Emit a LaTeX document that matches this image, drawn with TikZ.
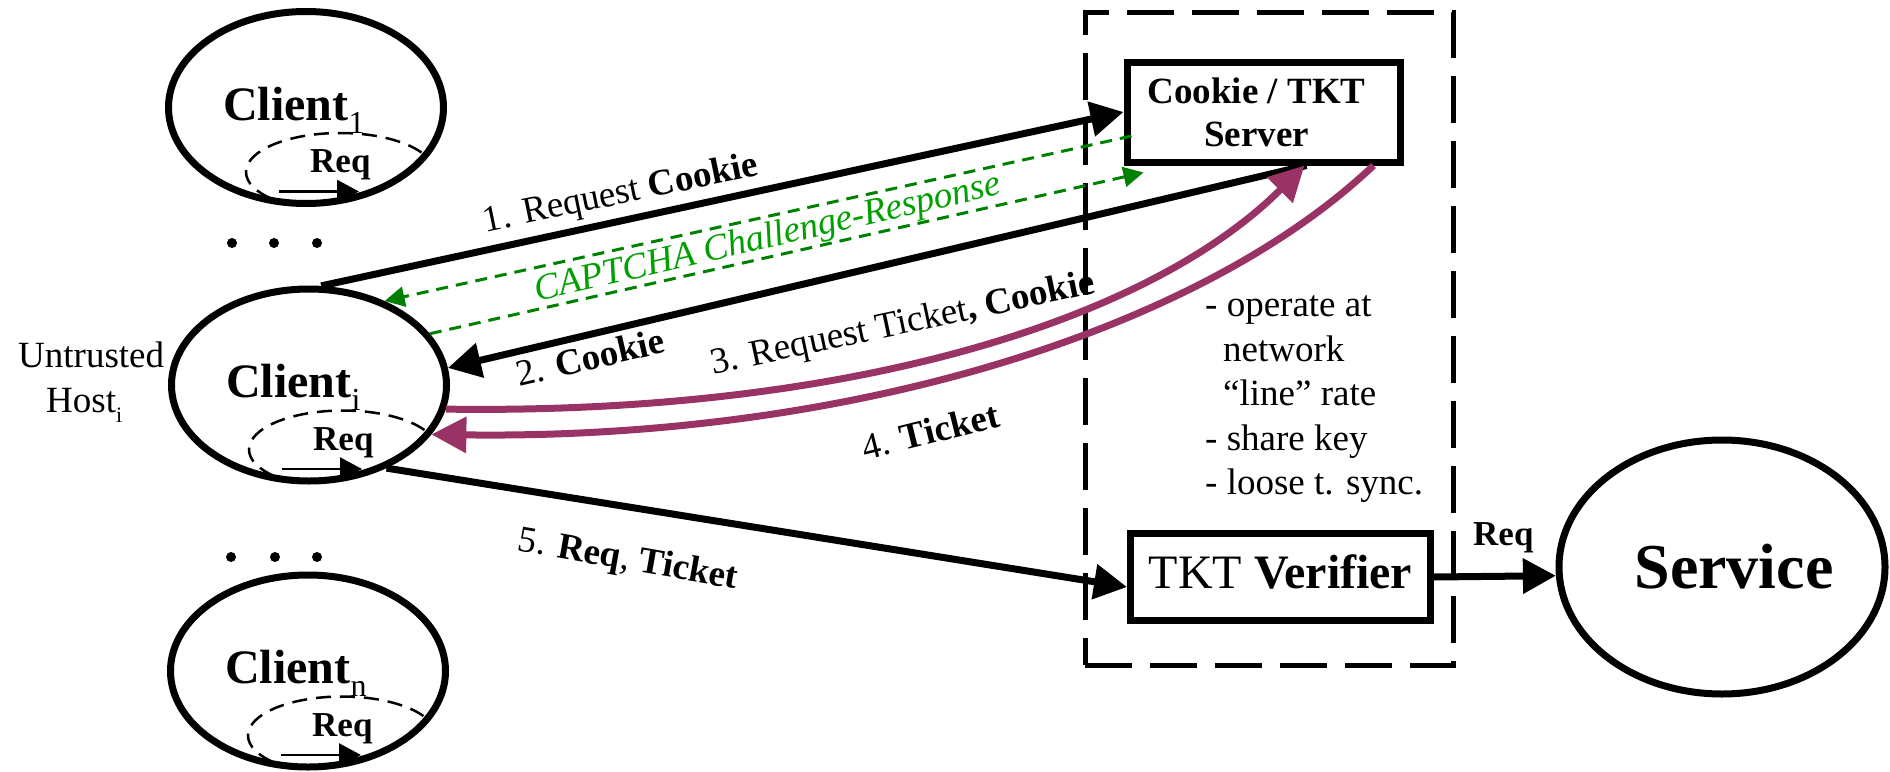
\documentclass[tikz,border=0pt]{standalone}
\usepackage{fontspec}
\setmainfont{Liberation Serif}
\usetikzlibrary{arrows.meta,shapes.geometric}

\definecolor{plum}{RGB}{153,51,102}
\definecolor{dkgreen}{RGB}{0,128,0}
\definecolor{txgreen}{RGB}{0,160,0}

% one client host: outer ellipse, dashed request loop, labels
\newcommand\clientnode[4]{%
  \node[client] (#1) at (#2,#3) {};
  \begin{scope}
    \clip (#2,#3) ellipse [x radius=137.5pt, y radius=96pt];
    \draw[reqloop] ({#2+34},{#3+64.5}) ellipse [x radius=94pt, y radius=39pt];
  \end{scope}
  \node[clientlbl] (#1lbl) at ({#2-83},{#3+12.5}) {Client\raisebox{-13pt}{\fontsize{32}{32}\mdseries #4}};
  \node[reqlbl] (#1req) at ({#2+4},{#3+65}) {Req};
  \coordinate (#1a) at ({#2-27},{#3+84});
  \coordinate (#1b) at ({#2+53},{#3+84});
  \draw[minireq] (#1a) -- (#1b);
}

\begin{document}
\begin{tikzpicture}[x=1pt,y=-1pt,
  client/.style={ellipse,draw,line width=7pt,minimum width=275pt,minimum height=192pt,inner sep=0pt},
  reqloop/.style={line width=2.5pt,dash pattern=on 15pt off 9pt},
  clientlbl/.style={anchor=base west,inner sep=0pt,font=\bfseries\fontsize{48}{56}\selectfont},
  reqlbl/.style={anchor=base west,inner sep=0pt,font=\bfseries\fontsize{35}{40}\selectfont},
  minireq/.style={line width=2.5pt,-{Triangle[length=22pt,width=23pt]}},
  box/.style={rectangle,draw,line width=7pt,inner sep=0pt},
  lbl/.style={inner sep=0pt,font=\fontsize{37}{44}\selectfont},
  note/.style={lbl,anchor=base west},
  flow/.style={line width=7pt,-{Triangle[length=33pt,width=34pt]}},
  pflow/.style={draw=plum,line width=7pt,-{Triangle[length=35pt,width=35pt]}},
  gflow/.style={draw=dkgreen,line width=3pt,dash pattern=on 12pt off 8pt,-{Triangle[length=20pt,width=20pt]}},
  dot/.style={circle,fill,inner sep=0pt,minimum size=10pt}]

\useasboundingbox (0,0) rectangle (1890,771);

% trusted domain (dashed frame)
\node[draw,line width=5pt,dash pattern=on 47pt off 18pt,minimum width=368pt,minimum height=653pt,inner sep=0pt] (grp) at (1269,338.5) {};

% clients
\clientnode{c1}{306}{107.5}{1}
\clientnode{ci}{309}{385}{i}
\clientnode{cn}{308}{671}{n}

\node[dot] (d1) at (232,243) {};
\node[dot] (d2) at (274,243) {};
\node[dot] (d3) at (317,243) {};
\node[dot] (d4) at (231,557) {};
\node[dot] (d5) at (275,557) {};
\node[dot] (d6) at (317,557) {};

\node[note] (u1) at (18,367) {Untrusted};
\node[note] (u2) at (46,412) {Host\raisebox{-10pt}{\fontsize{22}{22}\selectfont i}};

% servers
\node[box,minimum width=273pt,minimum height=100pt,align=center,font=\bfseries\fontsize{37}{43}\selectfont] (srv) at (1263.5,112) {Cookie / TKT\hspace*{14pt}\\Server\hspace*{14pt}};
\node[box,minimum width=300pt,minimum height=87pt,text depth=10pt,font=\fontsize{48}{56}\selectfont] (ver) at (1280.5,577) {TKT \textbf{Verifier}};

\node[ellipse,draw,line width=7pt,minimum width=326pt,minimum height=254pt,inner sep=0pt] (svc) at (1722,567) {};
\node[anchor=base,inner sep=0pt,font=\bfseries\fontsize{64}{70}\selectfont] (svclbl) at (1734,588) {Service};

\node[note] (n1) at (1205,316) {- operate at};
\node[note] (n2) at (1223,361) {network};
\node[note] (n3) at (1223,405) {“line” rate};
\node[note] (n4) at (1205,450) {- share key};
\node[note] (n5) at (1205,494) {- loose t. sync.};

% message flows
\draw[flow] (ci.83) -- (srv.west);
\draw[gflow] ([xshift=8pt,yshift=-24pt]srv.west) -- (ci.48);
\draw[gflow] (ci.23) -- ([xshift=20pt,yshift=-7pt]srv.south west);
\draw[flow] ([xshift=43pt]srv.south) -- (ci.7);
\draw[pflow] (ci.-10) .. controls (850,415) and (1150,320) .. ([xshift=41pt]srv.south);
\draw[pflow] ([xshift=110pt]srv.south) .. controls (1200,330) and (850,440) .. (ci.-22);
\draw[flow] (ci.-47) -- ([yshift=-10pt]ver.west);
\draw[flow] (ver.east) -- (svc.183);

% flow labels
\node[lbl,rotate=11.7] (l1) at (621,195) {1. Request \textbf{Cookie}};
\node[lbl,rotate=13,text=txgreen,font=\itshape\fontsize{37}{44}\selectfont] (lcap) at (768,239) {CAPTCHA Challenge-Response};
\node[lbl,rotate=13] (l2) at (590,357) {2. \textbf{Cookie}};
\node[lbl,rotate=12] (l3) at (903,325) {3. Request Ticket\textbf{, Cookie}};
\node[lbl,rotate=14] (l4) at (930,431) {4. \textbf{Ticket}};
\node[lbl,rotate=-10] (l5) at (628,561) {5. \textbf{Req}, \textbf{Ticket}};
\node[reqlbl] (sreq) at (1473,545) {Req};

\end{tikzpicture}
\end{document}
